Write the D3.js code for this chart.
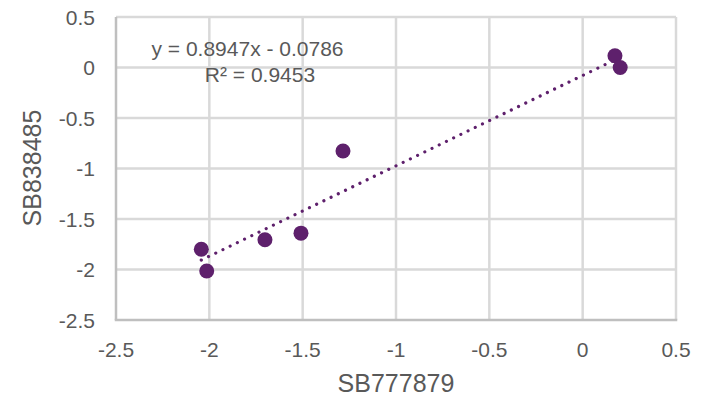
<!DOCTYPE html>
<html>
<head>
    <meta charset="utf-8">
    <style type="text/css">
        body { margin: 0; background: #ffffff; }
        text { font-family: "Liberation Sans", Arial, sans-serif; fill: #595959; }
    </style>
    <script src="https://d3js.org/d3.v7.min.js"></script>
</head>
<body>
    <div id="chart"></div>
    <script>
        // values
        const xValues = [0.173, 0.201, -2.043, -2.014, -1.702, -1.509, -1.284];
        const yValues = [0.117, 0.0, -1.80, -2.015, -1.705, -1.64, -0.827];
        const xTicks = [-2.5, -2, -1.5, -1, -0.5, 0, 0.5];
        const yTicks = [0.5, 0, -0.5, -1, -1.5, -2, -2.5];
        const trend = [0.8947, -0.0786]; // slope, intercept
        const trendLabels = ["y = 0.8947x - 0.0786", "R² = 0.9453"];
        const xTitle = "SB777879";
        const yTitle = "SB838485";

        const width = 702, height = 401;
        const margin = {left: 116, right: 26, top: 17, bottom: 81};
        const purple = "#5e206c";

        const svg = d3.select("#chart").append("svg")
            .attr("width", width)
            .attr("height", height);

        const x = d3.scaleLinear().domain([-2.5, 0.5]).range([margin.left, width - margin.right]);
        const y = d3.scaleLinear().domain([-2.5, 0.5]).range([height - margin.bottom, margin.top]);

        // gridlines
        svg.append("g").selectAll("line.vx")
            .data(xTicks.slice(1))
            .enter().append("line")
            .attr("x1", d => x(d)).attr("x2", d => x(d))
            .attr("y1", y(0.5)).attr("y2", y(-2.5))
            .attr("stroke", "#d9d9d9").attr("stroke-width", 2.5);

        svg.append("g").selectAll("line.hy")
            .data(yTicks.slice(0, -1))
            .enter().append("line")
            .attr("x1", x(-2.5)).attr("x2", x(0.5))
            .attr("y1", d => y(d)).attr("y2", d => y(d))
            .attr("stroke", "#d9d9d9").attr("stroke-width", 2.5);

        // axis lines
        svg.append("line")
            .attr("x1", x(-2.5)).attr("x2", x(-2.5))
            .attr("y1", y(0.5)).attr("y2", y(-2.5))
            .attr("stroke", "#bfbfbf").attr("stroke-width", 2.5);
        svg.append("line")
            .attr("x1", x(-2.5) - 1.25).attr("x2", x(0.5) + 1.25)
            .attr("y1", y(-2.5)).attr("y2", y(-2.5))
            .attr("stroke", "#bfbfbf").attr("stroke-width", 2.5);

        // tick labels
        svg.append("g").selectAll("text")
            .data(xTicks)
            .enter().append("text")
            .attr("x", d => x(d))
            .attr("y", y(-2.5) + 37)
            .attr("text-anchor", "middle")
            .attr("font-size", 21)
            .text(d => d);

        svg.append("g").selectAll("text")
            .data(yTicks)
            .enter().append("text")
            .attr("x", margin.left - 21)
            .attr("y", d => y(d) + 7.5)
            .attr("text-anchor", "end")
            .attr("font-size", 21)
            .text(d => d);

        // axis titles
        svg.append("text")
            .attr("x", 396).attr("y", 392)
            .attr("text-anchor", "middle")
            .attr("font-size", 25)
            .text(xTitle);

        svg.append("text")
            .attr("transform", "translate(41,168) rotate(-90)")
            .attr("text-anchor", "middle")
            .attr("font-size", 25)
            .text(yTitle);

        // trendline
        const xExt = d3.extent(xValues);
        svg.append("line")
            .attr("x1", x(xExt[0])).attr("y1", y(trend[0] * xExt[0] + trend[1]))
            .attr("x2", x(xExt[1])).attr("y2", y(trend[0] * xExt[1] + trend[1]))
            .attr("stroke", purple)
            .attr("stroke-width", 3.2)
            .attr("stroke-linecap", "round")
            .attr("stroke-dasharray", "0.01 8");

        // points
        svg.append("g").selectAll("circle")
            .data(xValues.map((d, i) => [d, yValues[i]]))
            .enter().append("circle")
            .attr("cx", d => x(d[0]))
            .attr("cy", d => y(d[1]))
            .attr("r", 7.5)
            .attr("fill", purple);

        // equation label
        svg.append("text")
            .attr("x", 247.5).attr("y", 55.5)
            .attr("text-anchor", "middle")
            .attr("font-size", 21)
            .text(trendLabels[0]);
        svg.append("text")
            .attr("x", 260).attr("y", 82)
            .attr("text-anchor", "middle")
            .attr("font-size", 21)
            .text(trendLabels[1]);
    </script>
</body>
</html>
